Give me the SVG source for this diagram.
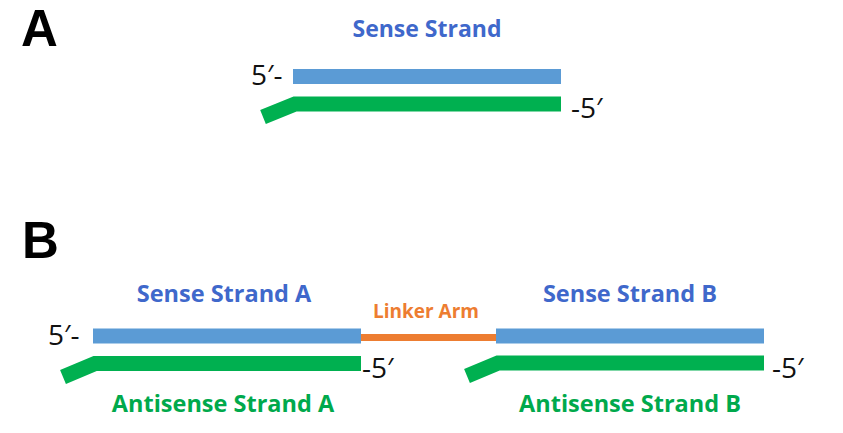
<svg xmlns="http://www.w3.org/2000/svg" width="843" height="433" viewBox="0 0 843 433">
<style>
.lbl{font-family:"Open Sans","Noto Sans","Liberation Sans",sans-serif;font-weight:bold;text-anchor:middle}
.blue{fill:#3F68CB}
.green{fill:#00A94C}
.orange{fill:#ED7D31}
.end{font-family:"Open Sans","Noto Sans","Liberation Sans",sans-serif;font-size:28px;fill:#111}
.panel{font-family:"Liberation Sans",Arial,sans-serif;font-weight:bold;font-size:51px;fill:#000}
.sense{stroke:#5B9BD5;stroke-width:15;fill:none}
.anti{stroke:#00B050;stroke-width:15;fill:none;stroke-linejoin:miter}
.linker{stroke:#ED7D31;stroke-width:7;fill:none}
</style>
<rect width="843" height="433" fill="#fff"/>
<text class="panel" x="21" y="46">A</text>
<text class="panel" x="22" y="258">B</text>
<g id="panelA">
  <g id="senseA0">
    <line class="sense" x1="293" y1="76.5" x2="561" y2="76.5"/>
    <text class="lbl blue" x="427" y="37" font-size="23">Sense Strand</text>
    <text class="end" x="251" y="85">5′-</text>
  </g>
  <g id="antiA0">
    <polyline class="anti" points="263,117 295,104 561,104"/>
    <text class="end" x="571" y="118">-5′</text>
  </g>
</g>
<g id="connectors">
  <line id="linkerArm" class="linker" x1="361" y1="337.5" x2="497" y2="337.5"/>
</g>
<g id="senseStrandA">
  <line class="sense" x1="93" y1="336" x2="361" y2="336"/>
  <text class="lbl blue" x="224" y="302" font-size="23.5">Sense Strand A</text>
  <text class="end" x="48" y="345">5′-</text>
</g>
<g id="linkerLabel">
  <text class="lbl orange" x="426" y="318" font-size="19">Linker Arm</text>
</g>
<g id="senseStrandB">
  <line class="sense" x1="496" y1="336" x2="764" y2="336"/>
  <text class="lbl blue" x="630" y="302" font-size="23.5">Sense Strand B</text>
</g>
<g id="antisenseStrandA">
  <polyline class="anti" points="63,377 95,363.5 361,363.5"/>
  <text class="end" x="362" y="378">-5′</text>
  <text class="lbl green" x="223" y="412" font-size="23.5">Antisense Strand A</text>
</g>
<g id="antisenseStrandB">
  <polyline class="anti" points="467,376 498,363 764,363"/>
  <text class="end" x="772" y="378">-5′</text>
  <text class="lbl green" x="630" y="412" font-size="23.5">Antisense Strand B</text>
</g>
</svg>
